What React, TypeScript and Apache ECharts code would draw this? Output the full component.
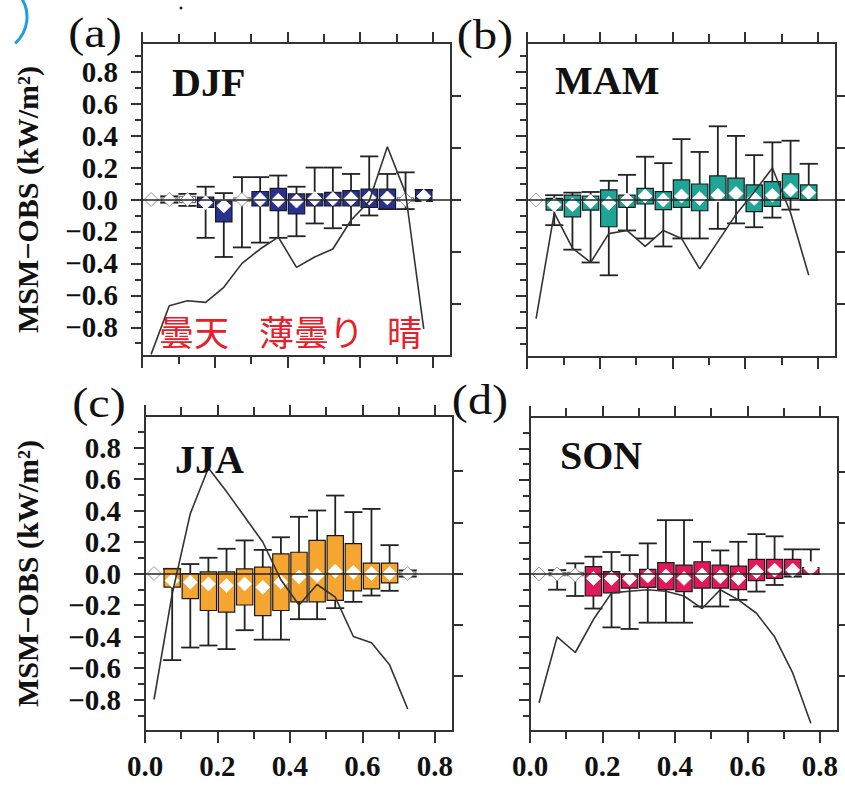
import { useEffect, useRef } from 'react';
import * as echarts from 'echarts';

// ---------- data ----------
const binCenters = [0.025, 0.075, 0.125, 0.175, 0.225, 0.275, 0.325, 0.375, 0.425, 0.475, 0.525, 0.575, 0.625, 0.675, 0.725, 0.775];

// DJF
const djfLow = [0, -0.02, -0.04, -0.24, -0.36, -0.3, -0.27, -0.24, -0.23, -0.15, -0.18, -0.16, -0.1, -0.06, -0.06, -0.01];
const djfQ1 = [0, -0.01, -0.02, -0.05, -0.14, -0.01, -0.04, -0.07, -0.09, -0.04, -0.04, -0.04, -0.05, -0.06, -0.01, -0.005];
const djfMed = [0, 0, 0, -0.02, -0.04, 0, 0, -0.005, -0.01, 0.005, 0.005, 0.005, 0.01, 0.01, 0, 0.02];
const djfQ3 = [0, 0.01, 0.02, 0.015, -0.01, 0.01, 0.05, 0.07, 0.035, 0.035, 0.045, 0.055, 0.065, 0.065, 0.01, 0.06];
const djfHigh = [0, 0.02, 0.035, 0.08, 0.04, 0.14, 0.14, 0.15, 0.08, 0.2, 0.2, 0.16, 0.27, 0.16, 0.17, 0.06];
const djfFilled = [0, 0, 0, 1, 1, 0, 1, 1, 1, 1, 1, 1, 1, 1, 0, 1];
const djfLine = [-0.97, -0.665, -0.634, -0.644, -0.55, -0.4, -0.31, -0.236, -0.425, -0.36, -0.31, -0.13, -0.01, 0.33, 0.04, -0.81];

// MAM
const mamLow = [0, -0.157, -0.31, -0.39, -0.47, -0.19, -0.24, -0.29, -0.24, -0.24, -0.18, -0.146, -0.17, -0.11, -0.06, 0];
const mamQ1 = [0, -0.063, -0.105, -0.063, -0.167, -0.046, -0.025, -0.06, -0.046, -0.067, 0, 0, -0.073, -0.04, 0.01, 0];
const mamMed = [0, -0.03, -0.03, -0.01, -0.02, 0, 0.025, 0, 0.025, 0.01, 0.03, 0.04, 0.01, 0.03, 0.063, 0.046];
const mamQ3 = [0, 0.01, 0.03, 0.025, 0.063, 0.03, 0.073, 0.052, 0.125, 0.1, 0.15, 0.136, 0.094, 0.115, 0.163, 0.094];
const mamHigh = [0, 0.03, 0.046, 0.05, 0.12, 0.157, 0.27, 0.23, 0.38, 0.3, 0.46, 0.4, 0.28, 0.36, 0.37, 0.226];
const mamFilled = [0, 1, 1, 1, 1, 1, 1, 1, 1, 1, 1, 1, 1, 1, 1, 1];
const mamLine = [-0.74, -0.08, -0.3, -0.39, -0.21, -0.19, -0.29, -0.19, -0.24, -0.43, -0.26, -0.09, 0.05, 0.2, -0.08, -0.47];

// JJA
const jjaLow = [0, -0.55, -0.47, -0.457, -0.48, -0.36, -0.42, -0.42, -0.29, -0.29, -0.22, -0.18, -0.14, -0.11, -0.02, null];
const jjaQ1 = [0, -0.087, -0.16, -0.235, -0.245, -0.2, -0.267, -0.235, -0.18, -0.18, -0.17, -0.11, -0.097, -0.06, -0.01, null];
const jjaMed = [0, -0.044, -0.055, -0.066, -0.076, -0.066, -0.087, -0.055, -0.023, -0.013, 0.015, 0.008, 0, 0, 0, null];
const jjaQ3 = [0, 0.03, 0, 0.01, 0.01, 0.03, 0.04, 0.125, 0.135, 0.21, 0.24, 0.19, 0.066, 0.066, 0.01, null];
const jjaHigh = [0, 0.03, 0.06, 0.1, 0.157, 0.21, 0.15, 0.23, 0.36, 0.4, 0.495, 0.39, 0.41, 0.18, 0.02, null];
const jjaFilled = [0, 1, 1, 1, 1, 1, 1, 1, 1, 1, 1, 1, 1, 1, 0, 0];
const jjaLine = [-0.8, -0.13, 0.38, 0.67, 0.52, 0.36, 0.2, -0.04, -0.2, -0.07, -0.15, -0.4, -0.44, -0.58, -0.86, null];

// SON
const sonLow = [0, -0.1, -0.14, -0.22, -0.34, -0.35, -0.31, -0.31, -0.31, -0.207, -0.207, -0.165, -0.112, -0.07, -0.017, 0];
const sonQ1 = [0, -0.01, -0.01, -0.14, -0.12, -0.09, -0.085, -0.1, -0.112, -0.09, -0.09, -0.1, -0.042, -0.028, -0.006, 0];
const sonMed = [0, 0, -0.006, -0.028, -0.028, -0.028, -0.013, -0.013, -0.028, -0.006, -0.017, -0.028, 0.015, 0.025, 0.025, 0.036];
const sonQ3 = [0, 0.01, 0.01, 0.047, 0.015, 0, 0.03, 0.072, 0.057, 0.078, 0.057, 0.05, 0.093, 0.093, 0.093, 0.04];
const sonHigh = [0, 0.025, 0.068, 0.11, 0.14, 0.12, 0.195, 0.343, 0.343, 0.205, 0.15, 0.205, 0.254, 0.24, 0.157, 0.157];
const sonFilled = [0, 0, 0, 1, 1, 1, 1, 1, 1, 1, 1, 1, 1, 1, 1, 1];
const sonLine = [-0.82, -0.4, -0.5, -0.29, -0.12, -0.11, -0.1, -0.11, -0.14, -0.22, -0.1, -0.165, -0.25, -0.4, -0.63, -0.95];

// ticks / labels
const xTickMajor = [0, 0.2, 0.4, 0.6, 0.8];
const xTickMinor = [0.1, 0.3, 0.5, 0.7];
const xLabelValues = [0, 0.2, 0.4, 0.6, 0.8];
const yTickMajor = [-0.8, -0.6, -0.4, -0.2, 0, 0.2, 0.4, 0.6, 0.8];
const yTickMinor = [-0.9, -0.7, -0.5, -0.3, -0.1, 0.1, 0.3, 0.5, 0.7, 0.9];
const yLabelValues = [-0.8, -0.6, -0.4, -0.2, 0, 0.2, 0.4, 0.6, 0.8];
const rightTicks = [-0.65, -0.325, 0, 0.325, 0.65];

const yTitle = 'MSM−OBS (kW/m²)';

// ---------- styling ----------
const SERIF = "'Liberation Serif','Times New Roman',serif";
const AX = '#333';

const seasons = [
  { name: 'DJF', lo: djfLow, q1: djfQ1, med: djfMed, q3: djfQ3, hi: djfHigh, filled: djfFilled, line: djfLine, color: '#283191' },
  { name: 'MAM', lo: mamLow, q1: mamQ1, med: mamMed, q3: mamQ3, hi: mamHigh, filled: mamFilled, line: mamLine, color: '#1fa596' },
  { name: 'JJA', lo: jjaLow, q1: jjaQ1, med: jjaMed, q3: jjaQ3, hi: jjaHigh, filled: jjaFilled, line: jjaLine, color: '#f6a630' },
  { name: 'SON', lo: sonLow, q1: sonQ1, med: sonMed, q3: sonQ3, hi: sonHigh, filled: sonFilled, line: sonLine, color: '#e01a5a' },
];

const panels = [
  { grid: { left: 142, top: 43, width: 309, height: 313 }, yr: 0.98, xLabels: false, yLabels: true, tag: '(a)', tagPos: [95, 33], titlePos: [172, 82] },
  { grid: { left: 527, top: 43, width: 309, height: 314 }, yr: 0.98, xLabels: false, yLabels: false, tag: '(b)', tagPos: [485, 35], titlePos: [555, 80] },
  { grid: { left: 145, top: 416, width: 308, height: 315 }, yr: 1.0, xLabels: true, yLabels: true, tag: '(c)', tagPos: [99, 403], titlePos: [175, 459] },
  { grid: { left: 530, top: 417, width: 308, height: 314 }, yr: 1.0, xLabels: true, yLabels: false, tag: '(d)', tagPos: [480, 400], titlePos: [560, 455] },
];

const fmt = (v: number) => {
  const s = Math.abs(v) < 1e-9 ? '0.0' : v.toFixed(1);
  return s.replace('-', '−');
};

function xAxisDef(gi: number, position: string, ticks: number[], len: number, showLine: boolean, labels: boolean) {
  return {
    type: 'value', gridIndex: gi, position, min: 0, max: 0.85,
    axisLine: { show: showLine, onZero: false, lineStyle: { color: AX, width: 2 } },
    axisTick: { show: true, customValues: ticks, length: len, inside: false, lineStyle: { color: AX, width: 2 } },
    axisLabel: labels
      ? { show: true, customValues: xLabelValues, formatter: fmt, margin: 20, fontFamily: SERIF, fontSize: 29, fontWeight: 'bold', color: '#111' }
      : { show: false },
    splitLine: { show: false },
  };
}

function yAxisDef(gi: number, position: string, yr: number, ticks: number[], len: number, showLine: boolean, labels: boolean) {
  return {
    type: 'value', gridIndex: gi, position, min: -yr, max: yr,
    axisLine: { show: showLine, onZero: false, lineStyle: { color: AX, width: 2 } },
    axisTick: { show: true, customValues: ticks, length: len, inside: false, lineStyle: { color: AX, width: 2 } },
    axisLabel: labels
      ? { show: true, customValues: yLabelValues, formatter: fmt, margin: 24, fontFamily: SERIF, fontSize: 29, fontWeight: 'bold', color: '#111' }
      : { show: false },
    splitLine: { show: false },
  };
}

function makeRender(color: string) {
  return (params: any, api: any) => {
    const x = api.value(0);
    const lo = api.value(1), q1 = api.value(2), med = api.value(3), q3 = api.value(4), hi = api.value(5);
    const filled = api.value(6) > 0.5;
    const pLo = api.coord([x, lo]);
    const pHi = api.coord([x, hi]);
    const pQ1 = api.coord([x, q1]);
    const pQ3 = api.coord([x, q3]);
    const pMed = api.coord([x, med]);
    const boxW = api.size([0.045, 0])[0];
    const capW = api.size([0.05, 0])[0];
    const cx = pMed[0];
    const children: any[] = [];
    const ws = { stroke: '#222', lineWidth: 1.8 };
    if (Math.abs(pLo[1] - pHi[1]) > 1) {
      children.push({ type: 'line', shape: { x1: cx, y1: pHi[1], x2: cx, y2: pLo[1] }, style: ws });
      children.push({ type: 'line', shape: { x1: cx - capW / 2, y1: pHi[1], x2: cx + capW / 2, y2: pHi[1] }, style: ws });
      children.push({ type: 'line', shape: { x1: cx - capW / 2, y1: pLo[1], x2: cx + capW / 2, y2: pLo[1] }, style: ws });
    }
    if (Math.abs(pQ1[1] - pQ3[1]) > 0.5) {
      children.push({
        type: 'rect',
        shape: { x: cx - boxW / 2, y: Math.min(pQ1[1], pQ3[1]), width: boxW, height: Math.abs(pQ1[1] - pQ3[1]) },
        style: { fill: filled ? color : '#fff', stroke: filled ? '#1a1a1a' : '#777', lineWidth: 1.2 },
      });
    }
    const d = 7;
    children.push({
      type: 'polygon',
      shape: { points: [[cx, pMed[1] - d], [cx + d, pMed[1]], [cx, pMed[1] + d], [cx - d, pMed[1]]] },
      style: { fill: '#fff', stroke: filled ? 'rgba(255,255,255,0.7)' : '#999', lineWidth: 1 },
    });
    return { type: 'group', children };
  };
}

export default function App() {
  const ref = useRef<HTMLDivElement>(null);
  useEffect(() => {
    if (!ref.current) return;
    const chart = echarts.init(ref.current, undefined, { renderer: 'svg' });
    const grids: any[] = [];
    const xAxes: any[] = [];
    const yAxes: any[] = [];
    const series: any[] = [];
    const graphics: any[] = [];

    panels.forEach((p, i) => {
      const s = seasons[i];
      grids.push({ ...p.grid, show: false });
      xAxes.push(xAxisDef(i, 'bottom', xTickMajor, 12, true, p.xLabels));
      xAxes.push(xAxisDef(i, 'bottom', xTickMinor, 8, false, false));
      xAxes.push(xAxisDef(i, 'top', xTickMajor, 11, true, false));
      xAxes.push(xAxisDef(i, 'top', xTickMinor, 9, false, false));
      yAxes.push(yAxisDef(i, 'left', p.yr, yTickMajor, 11, true, p.yLabels));
      yAxes.push(yAxisDef(i, 'left', p.yr, yTickMinor, 7, false, false));
      yAxes.push(yAxisDef(i, 'right', p.yr, rightTicks, 10, true, false));
      const xi = i * 4;
      const yi = i * 3;

      series.push({
        type: 'line', xAxisIndex: xi, yAxisIndex: yi, data: [], z: 1, silent: true,
        markLine: {
          silent: true, symbol: 'none', label: { show: false },
          lineStyle: { color: '#222', width: 1.5, type: 'solid' },
          data: [{ yAxis: 0 }],
        },
      });

      const boxData: any[] = [];
      binCenters.forEach((c, k) => {
        if (s.med[k] === null || s.med[k] === undefined) return;
        boxData.push([c, s.lo[k], s.q1[k], s.med[k], s.q3[k], s.hi[k], s.filled[k]]);
      });
      series.push({
        type: 'custom', xAxisIndex: xi, yAxisIndex: yi, z: 3,
        renderItem: makeRender(s.color),
        data: boxData,
      });

      const lineData: any[] = [];
      binCenters.forEach((c, k) => {
        if (s.line[k] === null || s.line[k] === undefined) return;
        lineData.push([c, s.line[k]]);
      });
      series.push({
        type: 'line', xAxisIndex: xi, yAxisIndex: yi, z: 5, data: lineData,
        symbol: 'none', clip: true,
        lineStyle: { color: '#333', width: 1.6 },
      });

      graphics.push({
        type: 'text', x: p.tagPos[0], y: p.tagPos[1], scaleX: 1.15,
        style: { text: p.tag, fontFamily: SERIF, fontSize: 42, fill: '#111', align: 'center', verticalAlign: 'middle' },
      });
      graphics.push({
        type: 'text', x: p.titlePos[0], y: p.titlePos[1], z: 10,
        style: { text: s.name, fontFamily: SERIF, fontSize: 40, fontWeight: 'bold', fill: '#111', align: 'left', verticalAlign: 'middle' },
      });
      if (p.yLabels) {
        graphics.push({
          type: 'text', x: 27, y: p.grid.top + p.grid.height / 2, rotation: Math.PI / 2,
          style: { text: yTitle, fontFamily: SERIF, fontSize: 30, fontWeight: 'bold', fill: '#111', align: 'center', verticalAlign: 'middle' },
        });
      }
    });

    const jp = "'Noto Sans CJK JP','Noto Sans CJK SC',sans-serif";
    const red = '#e5202b';
    graphics.push({ type: 'text', x: 159, y: 330, z: 20, style: { text: '曇天', fontFamily: jp, fontSize: 35, fill: red, verticalAlign: 'middle' } });
    graphics.push({ type: 'text', x: 259, y: 330, z: 20, style: { text: '薄曇り', fontFamily: jp, fontSize: 35, fill: red, verticalAlign: 'middle' } });
    graphics.push({ type: 'text', x: 387, y: 330, z: 20, style: { text: '晴', fontFamily: jp, fontSize: 35, fill: red, verticalAlign: 'middle' } });

    graphics.push({
      type: 'arc', shape: { cx: -8, cy: 17, r: 35, startAngle: -0.6, endAngle: 0.85 },
      style: { stroke: '#1c9fe0', lineWidth: 3, fill: 'none' },
    });
    graphics.push({ type: 'circle', shape: { cx: 181, cy: 8, r: 1.5 }, style: { fill: '#222' } });

    chart.setOption({
      animation: false,
      backgroundColor: '#fff',
      grid: grids,
      xAxis: xAxes,
      yAxis: yAxes,
      series,
      graphic: graphics,
    });
    return () => chart.dispose();
  }, []);
  return <div ref={ref} style={{ position: 'absolute', left: 0, top: 0, width: 845, height: 792 }} />;
}
